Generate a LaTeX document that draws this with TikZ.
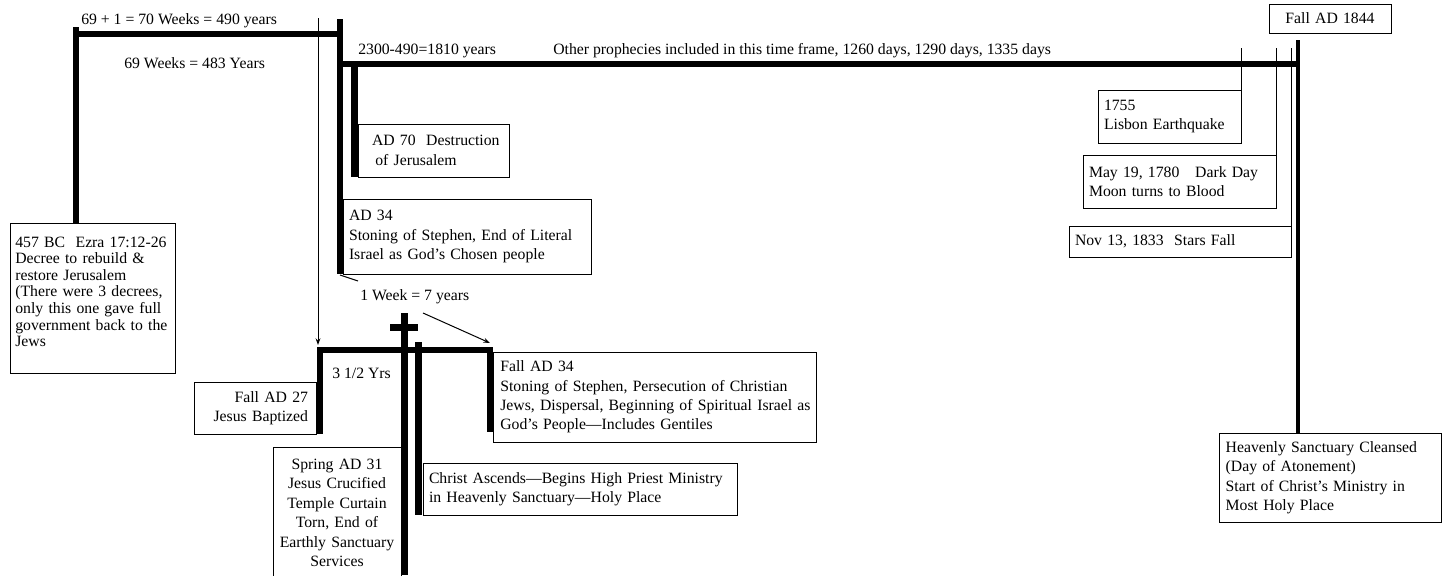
\documentclass[tikz,border=0pt]{standalone}
\usepackage{fontspec}
\setmainfont{Liberation Serif}
\usetikzlibrary{arrows.meta}

\begin{document}
\begin{tikzpicture}[x=0.75pt, y=-0.75pt,
            bar/.style={line width=4.8pt},
            hair/.style={line width=0.75pt},
            arr/.style={line width=0.75pt, -{Stealth[length=5pt, width=3.6pt]}},
            note/.style={draw, line width=0.75pt, anchor=north west, inner xsep=4.5pt, inner ysep=0pt, outer sep=0pt, align=left, font=\fontsize{11.8}{14.6}\selectfont},
            lbl/.style={anchor=west, inner sep=0pt, font=\fontsize{11.8}{14.6}\selectfont}]
            \useasboundingbox (0,0) rectangle (1442,575);
            \clip (0,0) rectangle (1442,575);

            \node[note, inner xsep=4pt, text width=115.75pt, minimum height=112.5pt, font=\fontsize{11.8}{12.4}\selectfont] (decree) at (10,223) {457 BC~~Ezra 17:12-26\\Decree to rebuild \&\\restore Jerusalem\\(There were 3 decrees,\\only this one gave full\\government back to the\\Jews\\[-3pt]~};
            \node[note, text width=104.25pt, minimum height=39.75pt] (ad70) at (358,124) {\hspace*{6pt}AD 70~~Destruction\\\hspace*{8.5pt}of Jerusalem};
            \node[note, text width=177pt, minimum height=56.25pt] (ad34) at (343,199) {AD 34\\Stoning of Stephen, End of Literal\\Israel as God's Chosen people};
            \node[note, inner xsep=6pt, text width=79.5pt, minimum height=39pt, align=right] (ad27) at (194,382) {Fall AD 27\\Jesus Baptized};
            \node[note, inner xsep=5.5pt, text width=231.25pt, minimum height=67.5pt] (fall34) at (493,352) {Fall AD 34\\Stoning of Stephen, Persecution of Christian\\\mbox{Jews, Dispersal, Beginning of Spiritual Israel as}\\God's People---Includes Gentiles};
            \node[note, inner xsep=3pt, text width=90pt, minimum height=99pt, align=center] (ad31) at (273,447) {Spring AD 31\\Jesus Crucified\\Temple Curtain\\Torn, End of\\Earthly Sanctuary\\Services};
            \node[note, text width=226.5pt, minimum height=39pt] (ascends) at (423,463) {Christ Ascends---Begins High Priest Ministry\\in Heavenly Sanctuary---Holy Place};
            \node[note, text width=82.5pt, minimum height=21.75pt, align=center] (ad1844) at (1269,4) {Fall AD 1844};
            \node[note, text width=98.25pt, minimum height=39.75pt] (lisbon) at (1098,90) {1755\\Lisbon Earthquake};
            \node[note, text width=135.75pt, minimum height=39.75pt] (darkday) at (1083,155) {May 19, 1780~~~Dark Day\\Moon turns to Blood};
            \node[note, text width=157.5pt, minimum height=23.25pt] (stars) at (1069,226) {Nov 13, 1833~~Stars Fall};
            \node[note, inner xsep=5pt, text width=156.5pt, minimum height=66.75pt] (cleansed) at (1219,433) {Heavenly Sanctuary Cleansed\\(Day of Atonement)\\Start of Christ's Ministry in\\Most Holy Place};

            \node[lbl] (w490) at (81,21) {69 + 1 = 70 Weeks = 490 years};
            \node[lbl] (w483) at (124,63) {69 Weeks = 483~Years};
            \node[lbl] (y1810) at (358,51) {2300-490=1810 years};
            \node[lbl] (other) at (553,51) {Other prophecies included in this time frame, 1260 days, 1290 days, 1335 days};
            \node[lbl] (week) at (360,297) {1 Week = 7 years};
            \node[lbl] (half) at (332,373) {3 1/2 Yrs};

            \coordinate (bc457) at (76,27);
            \coordinate (end70) at (340,19);
            \coordinate (end69) at (318,18);
            \coordinate (end1844) at (1298,40);
            \coordinate (cross) at (404.5,313);
            \coordinate (rise) at (418.5,342);
            \coordinate (wk) at (423,313);
            \coordinate (wkend) at (490,343);
            \coordinate (t1755) at (1241,48);
            \coordinate (t1780) at (1276,48);
            \coordinate (t1833) at (1291,48);

            \draw[bar] (bc457) -- (bc457 |- decree.north);
            \draw[bar] (73,34) -- (343,34);
            \draw[bar] (end70) -- (end70 |- ad34.south);
            \draw[bar] (337,64) -- (1300,64);
            \draw[bar] (354.5,64) -- (354.5,177);
            \draw[bar, line width=3.6pt] (end1844) -- (end1844 |- cleansed.north);
            \draw[bar] (320,434) -- (320,350) -- (490,350) -- (490,432);
            \draw[bar] (cross) -- (404.5,575);
            \draw[bar] (390,327.5) -- (418,327.5);
            \draw[bar] (rise) -- (rise |- ascends.south);

            \draw[arr] (end69) -- (318,345);
            \draw[hair] (ad34.south west) ++(-3,1) -- ++(18,6);
            \draw[arr] (wk) -- (wkend);
            \draw[hair] (t1755) -- (lisbon.north east);
            \draw[hair] (t1780) -- (darkday.north east);
            \draw[hair] (t1833) -- (stars.north east);
        \end{tikzpicture}
\end{document}
